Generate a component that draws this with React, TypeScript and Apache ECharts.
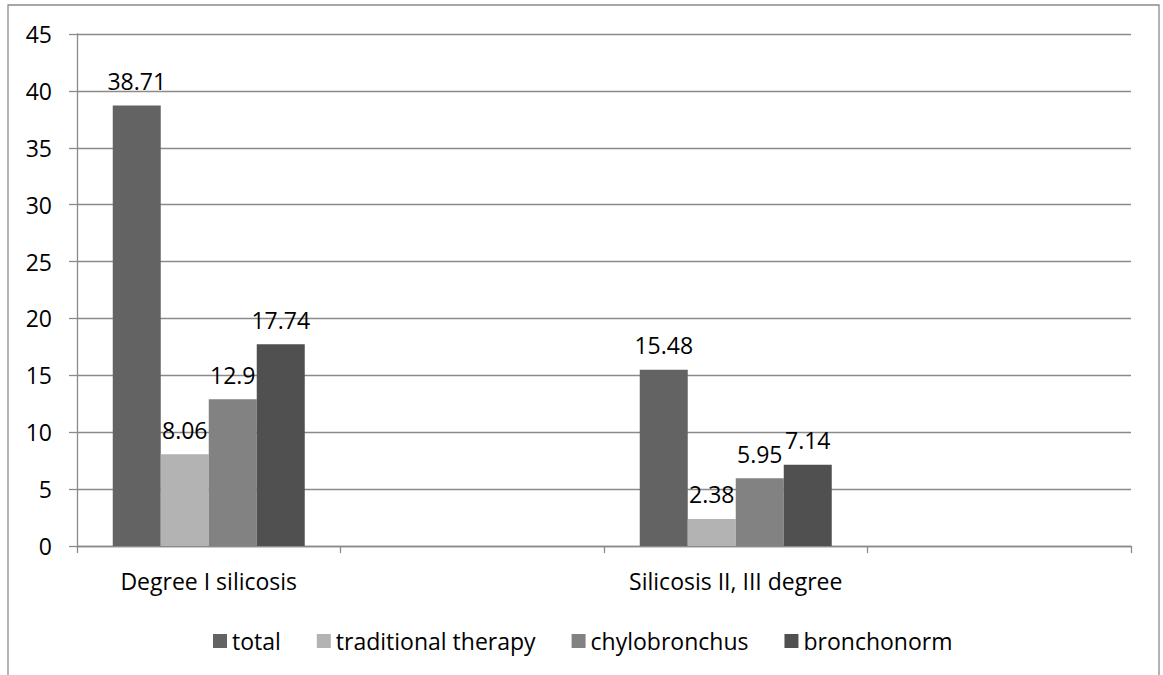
import React, { useEffect, useRef } from "react";
import * as echarts from "echarts";

const categories = ["Degree I silicosis", "", "Silicosis II, III degree", ""];
const seriesNames = ["total", "traditional therapy", "chylobronchus", "bronchonorm"];
const total = [38.71, null, 15.48, null];
const traditional = [8.06, null, 2.38, null];
const chylobronchus = [12.9, null, 5.95, null];
const bronchonorm = [17.74, null, 7.14, null];
const colors = ["#636363", "#b3b3b3", "#828282", "#505050"];
const yTicks = { min: 0, max: 45, interval: 5 };

const FONT = "'Open Sans', sans-serif";
const FS = 23;

export default function App() {
  const ref = useRef<HTMLDivElement>(null);
  useEffect(() => {
    const chart = echarts.init(ref.current!, null, { renderer: "svg" });
    const values = [total, traditional, chylobronchus, bronchonorm];
    chart.setOption({
      animation: false,
      backgroundColor: "#ffffff",
      textStyle: { fontFamily: FONT },
      graphic: [
        {
          type: "rect",
          shape: { x: 8, y: 5, width: 1151, height: 700 },
          style: { fill: "none", stroke: "#8a8a8a", lineWidth: 1.3 },
          silent: true,
        },
      ],
      grid: { left: 77, right: 32, top: 34, bottom: 129, containLabel: false },
      legend: {
        left: 208,
        top: 624,
        itemWidth: 14,
        itemHeight: 14,
        itemGap: 36,
        icon: "rect",
        textStyle: { fontFamily: FONT, fontSize: FS, color: "#000", lineHeight: 24 },
        data: seriesNames,
      },
      xAxis: {
        type: "category",
        data: categories,
        axisLine: { lineStyle: { color: "#8a8a8a", width: 1.3 } },
        axisTick: { show: true, length: 7, lineStyle: { color: "#8a8a8a", width: 1.3 } },
        axisLabel: { fontFamily: FONT, fontSize: FS, color: "#000", margin: 23, interval: 0 },
        splitLine: { show: false },
      },
      yAxis: {
        type: "value",
        min: yTicks.min,
        max: yTicks.max,
        interval: yTicks.interval,
        axisLine: { show: true, lineStyle: { color: "#8a8a8a", width: 1.3 } },
        axisTick: { show: true, length: 8, lineStyle: { color: "#8a8a8a", width: 1.3 } },
        axisLabel: { fontFamily: FONT, fontSize: FS, color: "#000", margin: 25 },
        splitLine: { show: true, lineStyle: { color: "#8a8a8a", width: 1.3 } },
      },
      series: seriesNames.map((name, i) => ({
        name,
        type: "bar",
        data: values[i],
        barWidth: 48,
        barGap: "0%",
        itemStyle: { color: colors[i] },
        label: {
          show: true,
          position: "top",
          distance: 13,
          fontFamily: FONT,
          fontSize: FS,
          color: "#000",
        },
      })),
    });
    return () => chart.dispose();
  }, []);
  return (
    <div
      ref={ref}
      style={{ position: "absolute", left: 0, top: 0, width: 1163, height: 675 }}
    />
  );
}
